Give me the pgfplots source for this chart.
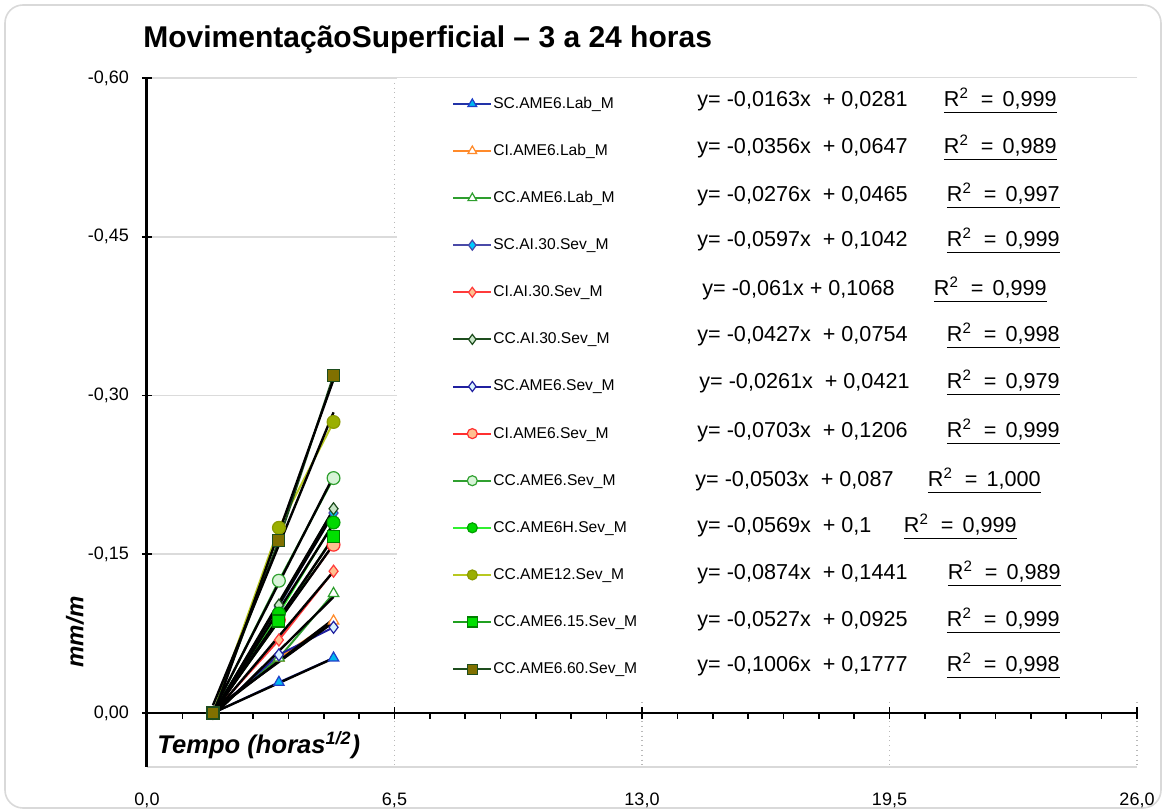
\documentclass[border=0pt]{standalone}
\usepackage{fontspec}
\setmainfont{Liberation Sans}
\usepackage{pgfplots}
\usepackage{pgfplotstable}
\pgfplotsset{compat=1.18}

\definecolor{c1l}{HTML}{2233A8}\definecolor{c1f}{HTML}{00B8F0}\definecolor{c1e}{HTML}{1F3FC8}
\definecolor{c2l}{HTML}{FF8A2A}
\definecolor{c3l}{HTML}{2E9E2E}
\definecolor{c4l}{HTML}{4A4AA8}\definecolor{c4f}{HTML}{00CCFF}
\definecolor{c5l}{HTML}{FF3B3B}\definecolor{c5f}{HTML}{FFC090}
\definecolor{c6l}{HTML}{1E4D1E}\definecolor{c6f}{HTML}{C8E6C8}
\definecolor{c7l}{HTML}{2020A0}\definecolor{c7f}{HTML}{D8F4FF}
\definecolor{c8l}{HTML}{FF3030}\definecolor{c8f}{HTML}{FFC090}
\definecolor{c9l}{HTML}{30A030}\definecolor{c9f}{HTML}{D8F4D8}
\definecolor{c10l}{HTML}{30F030}\definecolor{c10f}{HTML}{00D800}\definecolor{c10e}{HTML}{00A000}
\definecolor{c11l}{HTML}{B8C820}\definecolor{c11f}{HTML}{9AAF00}\definecolor{c11e}{HTML}{8A9A00}
\definecolor{c12l}{HTML}{20A020}\definecolor{c12f}{HTML}{00E000}\definecolor{c12e}{HTML}{008000}
\definecolor{c13l}{HTML}{1E4D1E}\definecolor{c13f}{HTML}{807000}

\pgfplotsset{
 L1/.style={color=c1l, line width=1pt, mark=triangle*, mark size=3pt, mark options={solid, fill=c1f, draw=c1e, line width=0.6pt}},
 L2/.style={color=c2l, line width=1pt, mark=triangle*, mark size=3pt, mark options={solid, fill=white, draw=c2l, line width=0.6pt}},
 L3/.style={color=c3l, line width=1pt, mark=triangle*, mark size=3pt, mark options={solid, fill=white, draw=c3l, line width=0.6pt}},
 L4/.style={color=c4l, line width=1pt, mark=diamond*, mark size=3pt, mark options={solid, fill=c4f, draw=c4l, line width=0.6pt}},
 L5/.style={color=c5l, line width=1pt, mark=diamond*, mark size=3pt, mark options={solid, fill=c5f, draw=c5l, line width=0.6pt}},
 L6/.style={color=c6l, line width=1pt, mark=diamond*, mark size=3pt, mark options={solid, fill=c6f, draw=c6l, line width=0.6pt}},
 L7/.style={color=c7l, line width=1pt, mark=diamond*, mark size=3pt, mark options={solid, fill=c7f, draw=c7l, line width=0.6pt}},
 L8/.style={color=c8l, line width=1pt, mark=*, mark size=3.2pt, mark options={solid, fill=c8f, draw=c8l, line width=0.6pt}},
 L9/.style={color=c9l, line width=1pt, mark=*, mark size=3.2pt, mark options={solid, fill=c9f, draw=c9l, line width=0.6pt}},
 L10/.style={color=c10l, line width=1pt, mark=*, mark size=3.2pt, mark options={solid, fill=c10f, draw=c10e, line width=0.6pt}},
 L11/.style={color=c11l, line width=1pt, mark=*, mark size=3.2pt, mark options={solid, fill=c11f, draw=c11e, line width=0.6pt}},
 L12/.style={color=c12l, line width=1pt, mark=square*, mark size=3pt, mark options={solid, fill=c12f, draw=c12e, line width=0.6pt}},
 L13/.style={color=c13l, line width=1pt, mark=square*, mark size=3pt, mark options={solid, fill=c13f, draw=c13l, line width=0.6pt}},
}

\pgfplotstableread{
x     s1     s2     s3     s4     s5     s6     s7     s8     s9     s10    s11    s12    s13
1.732 0      0      0      0      0      0      0      0      0      0      0      0      0
3.464 -0.029 -0.052 -0.052 -0.101 -0.069 -0.102 -0.055 -0.088 -0.125 -0.094 -0.175 -0.087 -0.163
4.899 -0.052 -0.087 -0.113 -0.189 -0.134 -0.193 -0.081 -0.159 -0.222 -0.180 -0.275 -0.167 -0.319
}\data

\pgfplotstableread{
x     t1      t2      t3      t4      t5      t6      t7      t8      t9      t10     t11     t12     t13
1.732 -0.0001 -0.0013 0.0030  0.0008  0.0014  0.0011  -0.0031 -0.0001 -0.0012 0.0014  -0.0073 0.0012  0.0035
4.899 -0.0518 -0.0887 -0.1097 -0.1883 -0.1338 -0.1920 -0.0858 -0.1594 -0.2238 -0.1788 -0.2841 -0.1657 -0.3151
}\trend

\newcommand{\eqf}{\fontsize{10.8}{13}\selectfont}
\newcommand{\Rsq}[1]{\underline{R\textsuperscript{2}\hspace{3pt} = \hspace{1.5pt}#1}}

\begin{document}
\begin{tikzpicture}
\path[use as bounding box] (-73.5pt,-22.5pt) rectangle (509.5pt,383.5pt);
\draw[gray!30, line width=0.8pt, rounded corners=9pt] (-71pt,-20.5pt) rectangle (507pt,381pt);

\begin{axis}[
  at={(0pt,0pt)}, anchor=south west,
  scale only axis, width=495pt, height=344.5pt,
  xmin=0, xmax=26, ymin=-0.6, ymax=0.051, y dir=reverse,
  clip=false,
  axis line style={draw=none},
  xtick={0,6.5,13,19.5,26},
  xticklabels={{0,0},{6,5},{13,0},{19,5},{26,0}},
  ytick={-0.6,-0.45,-0.3,-0.15,0},
  yticklabels={{-0,60},{-0,45},{-0,30},{-0,15},{0,00}},
  xticklabel pos=left,
  ytick pos=left,
  x tick style={draw=none},
  y tick style={black, line width=0.8pt},
  tick align=center, major tick length=5pt,
  ticklabel style={font=\fontsize{9}{10}\selectfont},
  xticklabel style={yshift=-7pt},
  yticklabel style={xshift=-3pt},
  grid=major,
  y grid style={gray!28, line width=0.8pt},
  x grid style={gray!55, dotted, line width=0.6pt},
  legend image code/.code={\draw[mark repeat=2, mark phase=2, #1] plot coordinates {(0pt,0pt) (9.5pt,0pt) (19pt,0pt)};},
  legend image post style={mark size=2.5pt},
  legend cell align=left,
  legend style={at={(0.308,0.974)}, anchor=north west, draw=none, fill=none, inner sep=0pt,
     row sep=15.95pt, font=\fontsize{7.8}{9}\selectfont,
     nodes={inner sep=0pt, text height=6pt, text depth=1.6pt},
     /tikz/every odd column/.append style={column sep=0.5pt}},
]
% axis lines
\draw[gray!30, line width=0.6pt] (axis cs:0,0.051) -- (axis cs:26,0.051);
\draw[black, line width=1pt] (axis cs:0,0) -- (axis cs:26,0);
\draw[black, line width=1.5pt] (axis cs:0,-0.6) -- (axis cs:0,0.051);
\pgfplotsinvokeforeach{0,6.5,13,19.5,26}{\draw[black, line width=0.8pt] ([yshift=3pt]axis cs:#1,0) -- ([yshift=-3pt]axis cs:#1,0);}
\pgfplotsinvokeforeach{0.9286,1.8571,2.7857,3.7143,4.6429,5.5714,7.4286,8.3571,9.2857,10.2143,11.1429,12.0714,13.9286,14.8571,15.7857,16.7143,17.6429,18.5714,20.4286,21.3571,22.2857,23.2143,24.1429,25.0714}{\draw[black, line width=0.8pt] (axis cs:#1,0) -- ([yshift=-3pt]axis cs:#1,0);}

% series lines
\pgfplotsinvokeforeach{1,...,13}{\addplot[L#1, mark=none, forget plot] table[x=x, y=s#1]{\data};}
% trend lines
\pgfplotsinvokeforeach{1,...,13}{\addplot[black, line width=1.2pt, forget plot] table[x=x, y=t#1]{\trend};}
% markers
\pgfplotsinvokeforeach{1,...,13}{\addplot[L#1, only marks, forget plot] table[x=x, y=s#1]{\data};}

% white text box
\fill[white] ([xshift=1pt]axis cs:6.5,-0.6) rectangle (axis cs:26.3,-0.012);

\addlegendimage{L1}\addlegendentry{SC.AME6.Lab\_M}
\addlegendimage{L2}\addlegendentry{CI.AME6.Lab\_M}
\addlegendimage{L3}\addlegendentry{CC.AME6.Lab\_M}
\addlegendimage{L4}\addlegendentry{SC.AI.30.Sev\_M}
\addlegendimage{L5}\addlegendentry{CI.AI.30.Sev\_M}
\addlegendimage{L6}\addlegendentry{CC.AI.30.Sev\_M}
\addlegendimage{L7}\addlegendentry{SC.AME6.Sev\_M}
\addlegendimage{L8}\addlegendentry{CI.AME6.Sev\_M}
\addlegendimage{L9}\addlegendentry{CC.AME6.Sev\_M}
\addlegendimage{L10}\addlegendentry{CC.AME6H.Sev\_M}
\addlegendimage{L11}\addlegendentry{CC.AME12.Sev\_M}
\addlegendimage{L12}\addlegendentry{CC.AME6.15.Sev\_M}
\addlegendimage{L13}\addlegendentry{CC.AME6.60.Sev\_M}
\end{axis}

% title and labels
\node[anchor=west, inner sep=0pt, font=\bfseries\fontsize{15}{17}\selectfont] at (-2pt,363.5pt) {MovimentaçãoSuperficial – 3 a 24 horas};
\node[rotate=90, font=\bfseries\itshape\fontsize{12}{14}\selectfont] at (-36pt,67.5pt) {mm/m};
\node[anchor=west, inner sep=0pt, font=\bfseries\itshape\fontsize{12.8}{15}\selectfont] at (5pt,11pt) {Tempo (horas\textsuperscript{1/2})};

% equations
\begin{scope}[every node/.style={font=\eqf, inner sep=0pt}]
\node[anchor=west] at (275pt,333pt)   {y= -0,0163x\ \ + 0,0281};   \node[anchor=east] at (455pt,333pt)   {\Rsq{0,999}};
\node[anchor=west] at (275pt,309.5pt) {y= -0,0356x\ \ + 0,0647};   \node[anchor=east] at (455pt,309.5pt) {\Rsq{0,989}};
\node[anchor=west] at (275pt,285.5pt) {y= -0,0276x\ \ + 0,0465};   \node[anchor=east] at (456.5pt,285.5pt) {\Rsq{0,997}};
\node[anchor=west] at (275pt,263pt)   {y= -0,0597x\ \ + 0,1042};   \node[anchor=east] at (456.5pt,263pt)   {\Rsq{0,999}};
\node[anchor=west] at (277.5pt,238.5pt) {y= -0,061x + 0,1068};     \node[anchor=east] at (450pt,238.5pt) {\Rsq{0,999}};
\node[anchor=west] at (275pt,215.5pt) {y= -0,0427x\ \ + 0,0754};   \node[anchor=east] at (456.5pt,215.5pt) {\Rsq{0,998}};
\node[anchor=west] at (276pt,192pt)   {y= -0,0261x\ \ + 0,0421};   \node[anchor=east] at (456.5pt,192pt)   {\Rsq{0,979}};
\node[anchor=west] at (275pt,167.5pt) {y= -0,0703x\ \ + 0,1206};   \node[anchor=east] at (456.5pt,167.5pt) {\Rsq{0,999}};
\node[anchor=west] at (274pt,143pt)   {y= -0,0503x\ \ + 0,087};    \node[anchor=east] at (447pt,143pt)   {\Rsq{1,000}};
\node[anchor=west] at (275pt,120pt)   {y= -0,0569x\ \ + 0,1};      \node[anchor=east] at (435pt,120pt)   {\Rsq{0,999}};
\node[anchor=west] at (275pt,96.5pt)  {y= -0,0874x\ \ + 0,1441};   \node[anchor=east] at (457pt,96.5pt)  {\Rsq{0,989}};
\node[anchor=west] at (275pt,73pt)    {y= -0,0527x\ \ + 0,0925};   \node[anchor=east] at (456.5pt,73pt)  {\Rsq{0,999}};
\node[anchor=west] at (275pt,50.5pt)  {y= -0,1006x\ \ + 0,1777};   \node[anchor=east] at (456.5pt,50.5pt) {\Rsq{0,998}};
\end{scope}
\end{tikzpicture}
\end{document}
